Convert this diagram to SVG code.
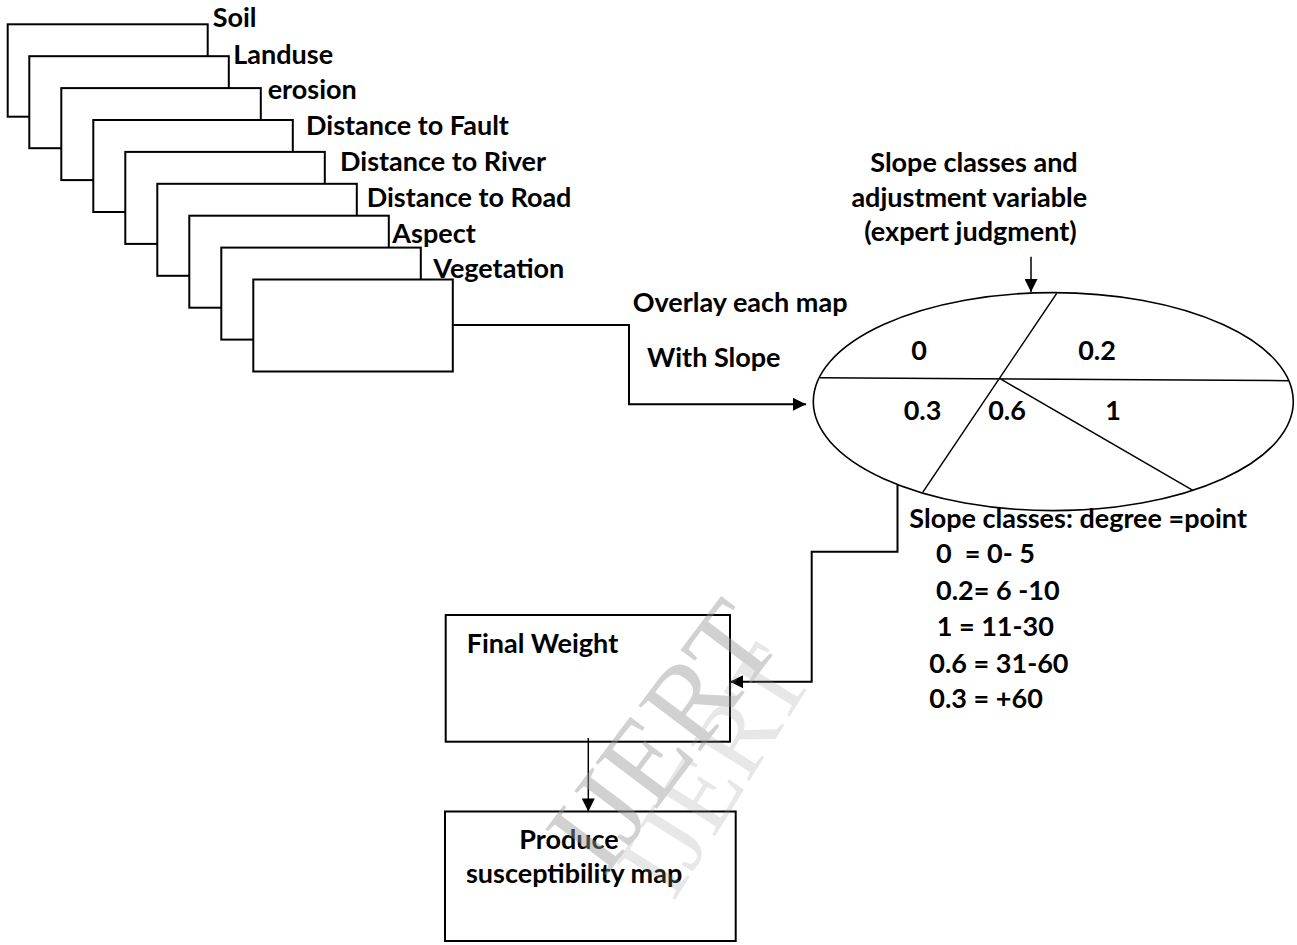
<svg xmlns="http://www.w3.org/2000/svg" width="1297" height="945" viewBox="0 0 1297 945">
<defs>
<style>
.box{fill:#fff;stroke:#000;stroke-width:2}
.lbl{font-family:Lato,"Liberation Sans",sans-serif;font-weight:700;font-size:27px;fill:#000;white-space:pre}
.mid{text-anchor:middle}
.conn{fill:none;stroke:#000;stroke-width:2}
.thin{fill:none;stroke:#000;stroke-width:1.5}
.wm{font-family:"Liberation Serif",serif;fill:#9a9a9a}
</style>
<marker id="arr" viewBox="0 0 10 10" refX="10" refY="5" markerWidth="16" markerHeight="13" markerUnits="userSpaceOnUse" orient="auto">
<path d="M0,0 L10,5 L0,10 Z" fill="#000"/>
</marker>
</defs>
<rect width="1297" height="945" fill="#fff"/>

<g id="map-soil"><rect class="box" x="7.7" y="24.3" width="200" height="92.4"/></g>
<g id="map-landuse"><rect class="box" x="29.3" y="56.2" width="199.5" height="92"/></g>
<g id="map-erosion"><rect class="box" x="61.3" y="88.1" width="199.5" height="92"/></g>
<g id="map-fault"><rect class="box" x="93.3" y="120" width="199.5" height="92"/></g>
<g id="map-river"><rect class="box" x="125.3" y="151.9" width="199.5" height="92"/></g>
<g id="map-road"><rect class="box" x="157.3" y="183.8" width="199.5" height="92"/></g>
<g id="map-aspect"><rect class="box" x="189.3" y="215.7" width="199.5" height="92"/></g>
<g id="map-vegetation"><rect class="box" x="221.3" y="247.6" width="199.5" height="92"/></g>
<g id="map-slope"><rect class="box" x="253.3" y="279.5" width="199.5" height="92"/></g>

<g id="map-labels">
<text class="lbl" x="212.7" y="27.3">Soil</text>
<text class="lbl" x="233.3" y="64">Landuse</text>
<text class="lbl" x="267.7" y="99.3">erosion</text>
<text class="lbl" x="306" y="135">Distance to Fault</text>
<text class="lbl" x="340" y="170.7">Distance to River</text>
<text class="lbl" x="366.7" y="206.7">Distance to Road</text>
<text class="lbl" x="392.3" y="242.7">Aspect</text>
<text class="lbl" x="433.3" y="278.3">Vegetation</text>
</g>

<g id="slope-ellipse">
<ellipse cx="1053.3" cy="401.6" rx="240" ry="109" fill="#fff" stroke="#000" stroke-width="1.6"/>
<path class="thin" d="M820,377.7 L1288.3,380.7 M1056.7,293.3 L922.7,492.3 M1000,378.7 L1193.3,490.7"/>
<text class="lbl mid" x="919" y="360">0</text>
<text class="lbl mid" x="1097" y="360">0.2</text>
<text class="lbl mid" x="922.5" y="420">0.3</text>
<text class="lbl mid" x="1007" y="420">0.6</text>
<text class="lbl mid" x="1113" y="420">1</text>
</g>

<g id="expert-note">
<text class="lbl mid" x="974" y="171.7">Slope classes and</text>
<text class="lbl mid" x="969.3" y="206.7">adjustment variable</text>
<text class="lbl mid" x="970.5" y="241">(expert judgment)</text>
</g>

<g id="overlay-note">
<text class="lbl" x="632.7" y="311.7">Overlay each map</text>
<text class="lbl" x="647" y="366.7">With Slope</text>
</g>

<g id="slope-classes">
<text class="lbl" x="909.3" y="528.3">Slope classes: degree =point</text>
<text class="lbl" x="936" y="563.3">0  = 0- 5</text>
<text class="lbl" x="936" y="600">0.2= 6 -10</text>
<text class="lbl" x="936.7" y="636">1 = 11-30</text>
<text class="lbl" x="929.3" y="672.7">0.6 = 31-60</text>
<text class="lbl" x="929.3" y="708.3">0.3 = +60</text>
</g>

<g id="final-weight">
<rect class="box" x="445.7" y="615" width="284.3" height="126.7"/>
<text class="lbl" x="466.7" y="653.3">Final Weight</text>
</g>

<g id="produce-map">
<rect class="box" x="445" y="811.5" width="290.7" height="129.5"/>
<text class="lbl" x="519.3" y="849.3">Produce</text>
<text class="lbl" x="466" y="883.3">susceptibility map</text>
</g>

<g id="connectors">
<path class="conn" d="M452.7,325 H629 V404.3 H806" marker-end="url(#arr)"/>
<path class="thin" d="M1031,256.7 V292" marker-end="url(#arr)"/>
<path class="conn" d="M897.5,484.6 V551.7 H811.7 V681.7 H730" marker-end="url(#arr)"/>
<path class="thin" d="M588.3,738 V811.5" marker-end="url(#arr)"/>
</g>

<g id="watermark" opacity="0.45">
<text class="wm" font-size="117" transform="translate(604,879) rotate(-53)">IJERT</text>
<text class="wm" font-size="105" opacity="0.5" transform="translate(673,903) rotate(-58)">IJERT</text>
</g>
</svg>
